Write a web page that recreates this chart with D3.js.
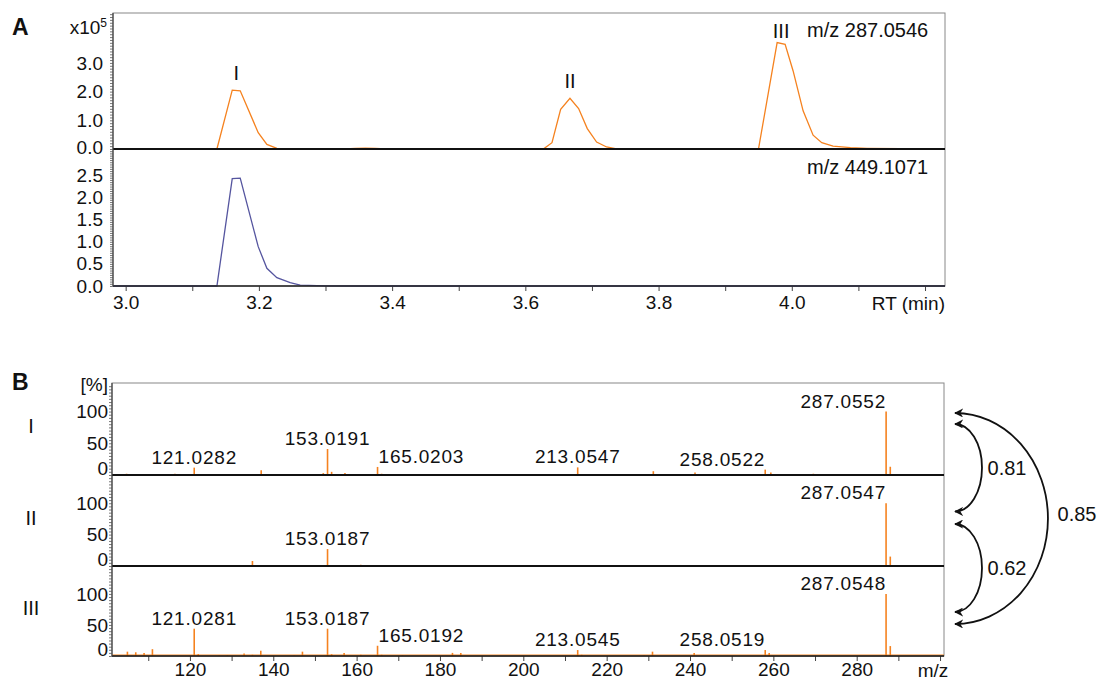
<!DOCTYPE html>
<html>
<head>
<meta charset="utf-8">
<script src="https://cdn.jsdelivr.net/npm/d3@7"></script>
<style>
  body { margin: 0; background: #fff; }
  svg { display: block; font-family: "Liberation Sans", Arial, sans-serif; }
</style>
</head>
<body>
<svg width="1097" height="681"></svg>
<script>
// extracted ion chromatograms (RT in min, intensity x10^5)
const eic287 = [
  [2.981, 0], [3.137, 0], [3.160, 2.05], [3.172, 2.03], [3.199, 0.57], [3.212, 0.16],
  [3.227, 0.02], [3.25, 0.005], [3.33, 0], [3.345, 0.02], [3.36, 0.03], [3.375, 0.02], [3.39, 0],
  [3.627, 0], [3.640, 0.22], [3.653, 1.38], [3.667, 1.77], [3.680, 1.41], [3.693, 0.71],
  [3.707, 0.24], [3.722, 0.07], [3.735, 0.01], [3.77, 0],
  [3.950, 0], [3.978, 3.71], [3.990, 3.65], [4.002, 2.72], [4.017, 1.33], [4.032, 0.48],
  [4.045, 0.22], [4.062, 0.10], [4.088, 0.045], [4.113, 0.025], [4.163, 0.01], [4.23, 0]
]
const eic449 = [
  [2.981, 0], [3.137, 0], [3.160, 2.43], [3.172, 2.44], [3.199, 0.89], [3.212, 0.40],
  [3.227, 0.19], [3.247, 0.075], [3.262, 0.02], [3.30, 0.005], [3.35, 0], [4.23, 0]
]
const eicPeaks = [
  { name: "I", rt: 3.166, top: 2.05 },
  { name: "II", rt: 3.667, top: 1.77 },
  { name: "III", rt: 3.984, top: 3.71 }
]

// MS/MS spectra (m/z, relative intensity %)
const spectrumI = [
  [104.8, 2], [116.4, 2], [121.03, 11.6], [123.8, 1], [129.1, 1], [133.1, 1], [137.1, 7.5],
  [145.1, 1], [152.0, 3], [153.02, 41], [154.0, 5], [157.2, 3], [165.02, 12.7], [166.0, 2],
  [171, 1], [175.3, 1], [180.8, 1], [183.1, 1], [185.1, 1.5], [213.05, 12], [214, 1.5],
  [231.2, 6], [241.2, 4], [242.3, 1.5], [258.05, 8.5], [259.4, 4], [269.6, 2],
  [287.06, 100], [288.06, 13]
]
const spectrumII = [
  [135, 8], [153.02, 27], [161, 2], [171, 1], [287.05, 100], [288.06, 15]
]
const spectrumIII = [
  [105, 7], [107, 6], [109, 5], [111, 11], [121.03, 44], [122, 3], [127, 1], [129, 1],
  [133, 4], [135, 2], [137, 8.5], [145, 1], [147, 7], [153.02, 44], [154, 3], [157, 5],
  [161, 2], [165.02, 16.5], [166, 2], [171, 1], [183, 5], [185, 5], [213.05, 9.6], [214, 2],
  [229, 1], [231, 7], [241, 5], [258.05, 9.6], [259, 5], [287.05, 100], [288.06, 16]
]
const labelsI = [
  { mz: 121.0282, top: 11.6, anchor: "middle" }, { mz: 153.0191, top: 41, anchor: "middle" },
  { mz: 165.0203, top: 12.7, anchor: "start" }, { mz: 213.0547, top: 12, anchor: "middle" },
  { mz: 258.0522, top: 8.5, anchor: "end" }, { mz: 287.0552, top: 100, anchor: "end" }
]
const labelsII = [
  { mz: 153.0187, top: 27, anchor: "middle" }, { mz: 287.0547, top: 100, anchor: "end" }
]
const labelsIII = [
  { mz: 121.0281, top: 44, anchor: "middle" }, { mz: 153.0187, top: 44, anchor: "middle" },
  { mz: 165.0192, top: 16.5, anchor: "start" }, { mz: 213.0545, top: 9.6, anchor: "middle" },
  { mz: 258.0519, top: 9.6, anchor: "end" }, { mz: 287.0548, top: 100, anchor: "end" }
]
const similarities = [
  { a: 0, b: 1, value: 0.81 },
  { a: 1, b: 2, value: 0.62 },
  { a: 0, b: 2, value: 0.85 }
]

const rtTicks = [3.0, 3.2, 3.4, 3.6, 3.8, 4.0]
const upperTicks = [0, 1, 2, 3]
const lowerTicks = [0, 0.5, 1, 1.5, 2, 2.5]
const mzTicks = [120, 140, 160, 180, 200, 220, 240, 260, 280]
const pctTicks = [0, 50, 100]

const ORANGE = "#f5821f"
const BLUE = "#55559f"

const svg = d3.select("svg")
const fmt1 = d3.format(".1f")

// ---------- panel A ----------
const A = { left: 113, right: 945, top: 13, mid: 149, bottom: 286 }
const xA = d3.scaleLinear().domain([2.981, 4.23]).range([A.left, A.right])
const yUp = d3.scaleLinear().domain([0, 4.74]).range([A.mid, A.top])
const yLo = d3.scaleLinear().domain([0, 3.1]).range([A.bottom, A.mid])

// dense ruler ticks + labelled values on a left axis
function yAxisRuler(g, scale, major, step, fmt, pad, zeroDy) {
  const d1 = scale.domain()[1]
  g.append("g").call(d3.axisLeft(scale).tickValues(d3.range(0, d1, step)).tickSize(3).tickFormat(""))
    .call(s => s.select(".domain").remove())
    .selectAll("line").attr("stroke", "#555").attr("stroke-width", 0.8)
  g.append("g").call(d3.axisLeft(scale).tickValues(major).tickSize(0).tickPadding(pad).tickFormat(fmt))
    .call(s => s.select(".domain").remove())
    .selectAll("text").attr("font-size", 19).attr("fill", "#111").attr("font-family", null)
    .attr("dy", d => d === 0 ? zeroDy : "0.32em")
}

const gA = svg.append("g")
const gAy = gA.append("g").attr("transform", `translate(${A.left},0)`)
yAxisRuler(gAy, yUp, upperTicks, 0.1, fmt1, 10, "0.25em")
yAxisRuler(gAy, yLo, lowerTicks, 0.05, fmt1, 10, "0.32em")

gA.append("g").attr("transform", `translate(0,${A.bottom})`)
  .call(d3.axisBottom(xA).tickValues(d3.range(3.0, 4.25, 0.1)).tickSize(5).tickPadding(5)
    .tickFormat(d => rtTicks.some(t => Math.abs(t - d) < 1e-6) ? fmt1(d) : ""))
  .call(s => s.select(".domain").remove())
  .call(s => s.selectAll("line").attr("stroke", "#444"))
  .selectAll("text").attr("font-size", 19).attr("fill", "#111").attr("font-family", null)

// frame
gA.append("rect").attr("x", A.left).attr("y", A.top).attr("width", A.right - A.left).attr("height", A.bottom - A.top)
  .attr("fill", "none").attr("stroke", "#888").attr("stroke-width", 1)

const line = (xs, ys) => d3.line().x(d => xs(d[0])).y(d => ys(d[1]))
gA.append("path").datum(eic287).attr("d", line(xA, yUp)).attr("fill", "none").attr("stroke", ORANGE).attr("stroke-width", 1.3)
gA.append("path").datum(eic449).attr("d", line(xA, yLo)).attr("fill", "none").attr("stroke", BLUE).attr("stroke-width", 1.3)

gA.append("line").attr("x1", A.left).attr("x2", A.right).attr("y1", A.mid).attr("y2", A.mid).attr("stroke", "#111").attr("stroke-width", 2)
gA.append("line").attr("x1", A.left).attr("x2", A.right).attr("y1", A.bottom).attr("y2", A.bottom).attr("stroke", "#222").attr("stroke-width", 1.5)
gA.append("line").attr("x1", A.left).attr("x2", A.left).attr("y1", A.top).attr("y2", A.bottom).attr("stroke", "#444").attr("stroke-width", 1.2)

gA.selectAll(".pk").data(eicPeaks).enter().append("text")
  .attr("x", d => xA(d.rt)).attr("y", d => yUp(d.top) - (d.top > 3 ? 5 : 10))
  .attr("text-anchor", "middle").attr("font-size", 20).attr("fill", "#111").text(d => d.name)

gA.append("text").attr("x", 807).attr("y", 37).attr("font-size", 20).attr("fill", "#111").text("m/z 287.0546")
gA.append("text").attr("x", 807).attr("y", 174).attr("font-size", 20).attr("fill", "#111").text("m/z 449.1071")
gA.append("text").attr("x", 945).attr("y", 310).attr("text-anchor", "end").attr("font-size", 19).attr("fill", "#111").text("RT (min)")
const xt = gA.append("text").attr("x", 107).attr("y", 34).attr("text-anchor", "end").attr("font-size", 19).attr("fill", "#111")
xt.append("tspan").text("x10")
xt.append("tspan").attr("font-size", 12).attr("dy", -7).text("5")
svg.append("text").attr("x", 12).attr("y", 35).attr("font-size", 23).attr("font-weight", "bold").attr("fill", "#111").text("A")

// ---------- panel B ----------
const B = { left: 112, right: 944, top: 383, bases: [475, 566, 656] }
const xB = d3.scaleLinear().domain([101.3, 300.95]).range([B.left, B.right])
const tops = [B.top, B.bases[0], B.bases[1]]
const yB = B.bases.map((b, i) => d3.scaleLinear().domain([0, 145]).range([b, tops[i]]))
const spectra = [spectrumI, spectrumII, spectrumIII]
const labels = [labelsI, labelsII, labelsIII]
const rowNames = ["I", "II", "III"]

const gB = svg.append("g")
yB.forEach((ys, i) => {
  const g = gB.append("g").attr("transform", `translate(${B.left},0)`)
  g.append("g").call(d3.axisLeft(ys).tickValues(d3.range(0, 145, 5)).tickSize(3).tickFormat(""))
    .call(s => s.select(".domain").remove())
    .selectAll("line").attr("stroke", "#555").attr("stroke-width", 0.8)
  g.append("g").call(d3.axisLeft(ys).tickValues(pctTicks).tickSize(0).tickPadding(4))
    .call(s => s.select(".domain").remove())
    .selectAll("text").attr("font-size", 19).attr("fill", "#111").attr("font-family", null)
    .attr("dy", d => d === 0 ? "-0.05em" : "0.32em")

  gB.append("text").attr("x", 31).attr("y", (B.bases[i] + tops[i]) / 2 - 3).attr("dy", "0.35em")
    .attr("text-anchor", "middle").attr("font-size", 20).attr("fill", "#111").text(rowNames[i])
})

gB.append("g").attr("transform", `translate(0,${B.bases[2]})`)
  .call(d3.axisBottom(xB).tickValues(d3.range(110, 301, 10)).tickSize(5).tickPadding(2)
    .tickFormat(d => mzTicks.includes(d) ? d : ""))
  .call(s => s.select(".domain").remove())
  .call(s => s.selectAll("line").attr("stroke", "#444"))
  .selectAll("text").attr("font-size", 19).attr("fill", "#111").attr("font-family", null)

gB.append("rect").attr("x", B.left).attr("y", B.top).attr("width", B.right - B.left).attr("height", B.bases[2] - B.top)
  .attr("fill", "none").attr("stroke", "#888").attr("stroke-width", 1)

// orange baseline of spectrum III
gB.append("line").attr("x1", B.left).attr("x2", B.right).attr("y1", B.bases[2] - 1).attr("y2", B.bases[2] - 1)
  .attr("stroke", ORANGE).attr("stroke-width", 1)

spectra.forEach((sp, i) => {
  gB.append("g").selectAll("line").data(sp).enter().append("line")
    .attr("x1", d => xB(d[0])).attr("x2", d => xB(d[0]))
    .attr("y1", yB[i](0)).attr("y2", d => yB[i](d[1]))
    .attr("stroke", ORANGE).attr("stroke-width", 1.6)
  gB.append("g").selectAll("text").data(labels[i]).enter().append("text")
    .attr("x", d => xB(d.mz) + (d.anchor === "start" ? 1 : 0))
    .attr("y", d => yB[i](d.top) - 4)
    .attr("text-anchor", d => d.anchor)
    .attr("font-size", 19).attr("letter-spacing", 0.8).attr("fill", "#111")
    .text(d => d.mz.toFixed(4))
})

B.bases.forEach((b, i) => {
  gB.append("line").attr("x1", B.left).attr("x2", B.right).attr("y1", b).attr("y2", b)
    .attr("stroke", "#111").attr("stroke-width", i < 2 ? 2 : 1.3)
})
gB.append("line").attr("x1", B.left).attr("x2", B.left).attr("y1", B.top).attr("y2", B.bases[2]).attr("stroke", "#444").attr("stroke-width", 1.2)

gB.append("text").attr("x", 933).attr("y", 677).attr("text-anchor", "middle").attr("font-size", 19).attr("fill", "#111").text("m/z")
gB.append("text").attr("x", 108).attr("y", 391).attr("text-anchor", "end").attr("font-size", 19).attr("fill", "#111").text("[%]")
svg.append("text").attr("x", 12).attr("y", 390).attr("font-size", 23).attr("font-weight", "bold").attr("fill", "#111").text("B")

// similarity arrows
svg.append("defs").append("marker").attr("id", "ah")
  .attr("viewBox", "0 0 10 10").attr("refX", 9).attr("refY", 5)
  .attr("markerWidth", 9).attr("markerHeight", 9).attr("markerUnits", "userSpaceOnUse")
  .attr("orient", "auto-start-reverse")
  .append("path").attr("d", "M0,0 L10,5 L0,10 L3,5 Z").attr("fill", "#111")

const centers = B.bases.map((b, i) => (b + tops[i]) / 2)
const ax = 955
const arrowEnds = [
  { y1: centers[0] - 5, y2: centers[1] - 9, rx: 27 },
  { y1: centers[1] + 3.5, y2: centers[2] + 1, rx: 27 },
  { y1: centers[0] - 16, y2: centers[2] + 13, rx: 93 }
]
similarities.forEach((s, i) => {
  const e = arrowEnds[i]
  const ry = (e.y2 - e.y1) / 2
  svg.append("path")
    .attr("d", `M${ax},${e.y1} A${e.rx},${ry} 0 0 1 ${ax},${e.y2}`)
    .attr("fill", "none").attr("stroke", "#111").attr("stroke-width", 1.8)
    .attr("marker-start", "url(#ah)").attr("marker-end", "url(#ah)")
  svg.append("text")
    .attr("x", ax + e.rx + (i < 2 ? 25 : 29)).attr("y", (e.y1 + e.y2) / 2 + (i === 2 ? -5 : 0))
    .attr("dy", "0.35em").attr("text-anchor", "middle").attr("font-size", 20).attr("fill", "#111")
    .text(s.value.toFixed(2))
})
</script>
</body>
</html>
